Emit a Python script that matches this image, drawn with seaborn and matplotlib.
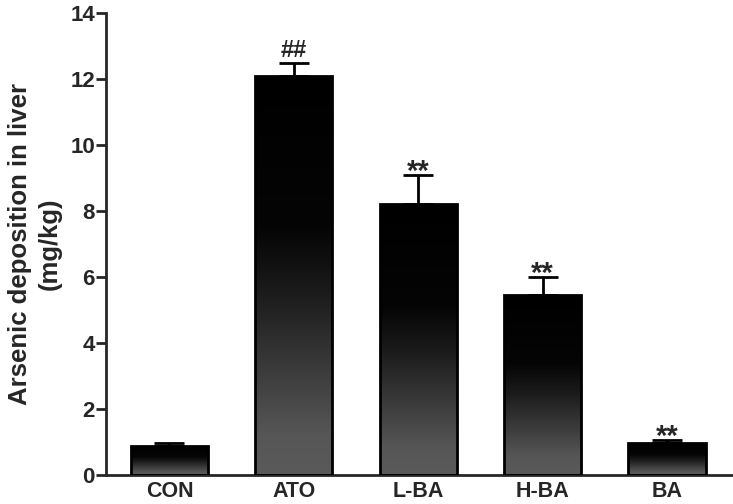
import numpy as np
import pandas as pd
import matplotlib
matplotlib.use("Agg")
import matplotlib.pyplot as plt
import seaborn as sns
from matplotlib.colors import LinearSegmentedColormap

# Data
groups = ["CON", "ATO", "L-BA", "H-BA", "BA"]
means = [0.89, 12.1, 8.2, 5.45, 0.97]
sems = [0.08, 0.4, 0.9, 0.55, 0.1]
marks = ["", "##", "**", "**", "**"]

df = pd.DataFrame({"group": groups, "value": means})

sns.set_style("ticks")
plt.rcParams["font.family"] = ["Liberation Sans", "DejaVu Sans"]
plt.rcParams["font.weight"] = "bold"

fig = plt.figure(figsize=(7.33, 5.04), dpi=100)
ax = fig.add_axes([0.1446, 0.0575, 0.8554, 0.9165])

sns.barplot(data=df, x="group", y="value", ax=ax, color="black",
            edgecolor="black", linewidth=2, width=0.62, errorbar=None)

# gradient fill: black at top, grey at bottom
cmap = LinearSegmentedColormap.from_list(
    "bar", [(0, "#5a5a5a"), (0.1, "#565656"), (0.45, "#1c1c1c"),
            (0.62, "#050505"), (1, "#000000")])
grad = np.linspace(0, 1, 256).reshape(-1, 1)
for p in ax.patches:
    x0, y0 = p.get_x(), p.get_y()
    w, h = p.get_width(), p.get_height()
    im = ax.imshow(grad, cmap=cmap, origin="lower", aspect="auto",
                   extent=[x0, x0 + w, y0, y0 + h], zorder=p.get_zorder())
    im.set_clip_path(p)
    p.set_facecolor("none")
    p.set_zorder(3)

xs = np.arange(len(groups))
ax.errorbar(xs, means, yerr=[np.zeros(len(sems)), sems], fmt="none",
            ecolor="black", elinewidth=2, capsize=11, capthick=2, zorder=2)

for x, m, s, t in zip(xs, means, sems, marks):
    if t == "**":
        ax.annotate(t, (x, m + s), xytext=(0, -3.5), textcoords="offset points",
                    ha="center", va="baseline", fontsize=21, fontweight="bold")
    elif t:
        ax.annotate(t, (x, m + s), xytext=(0, 4.3), textcoords="offset points",
                    ha="center", va="baseline", fontsize=17, fontweight="bold")

ax.set_xlim(-0.51, 4.53)
ax.set_ylim(0, 14)
ax.set_yticks(range(0, 15, 2))
ax.tick_params(axis="y", length=7, width=2, labelsize=16, pad=1)
ax.tick_params(axis="x", length=0, labelsize=15.5, pad=4.5)
for lab in ax.get_xticklabels() + ax.get_yticklabels():
    lab.set_fontweight("bold")
ax.set_xlabel("")
ax.set_ylabel("Arsenic deposition in liver\n(mg/kg)", fontsize=18.5,
              fontweight="bold", linespacing=1.3, labelpad=6)
sns.despine(ax=ax)
ax.spines["left"].set_linewidth(2)
ax.spines["bottom"].set_linewidth(2)

fig.savefig("out.png", dpi=100)
